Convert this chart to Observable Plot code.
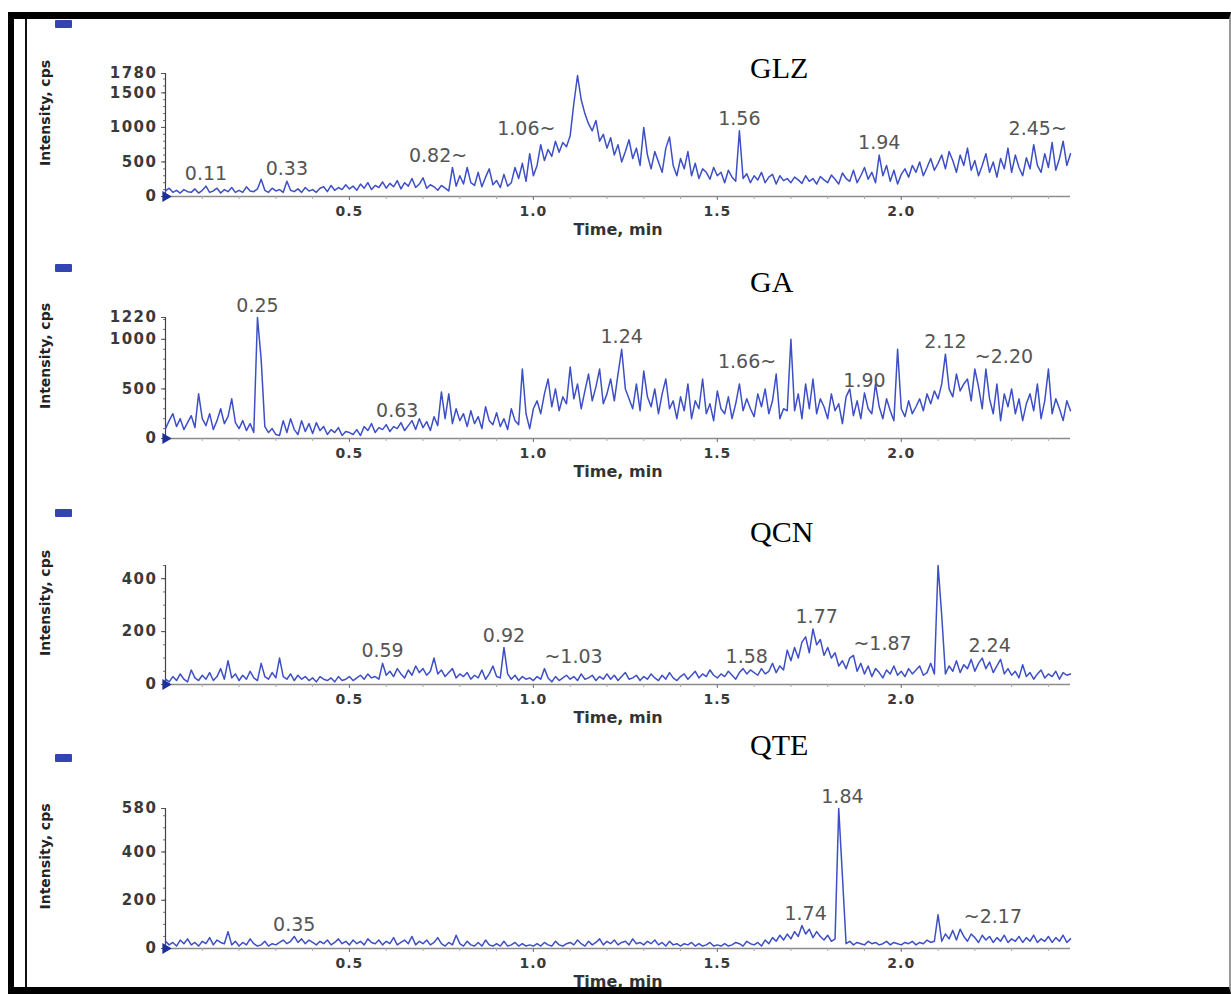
<!DOCTYPE html>
<html><head><meta charset="utf-8">
<script src="https://cdn.jsdelivr.net/npm/d3@7"></script>
<script src="https://cdn.jsdelivr.net/npm/@observablehq/plot@0.6"></script>
<style>
body{margin:0;background:#fff;}
#root{position:relative;width:1231px;height:994px;overflow:hidden;background:#fff;}
.panel{position:absolute;left:0;}
.title{position:absolute;left:750px;font-family:"Liberation Serif","Times New Roman",serif;font-size:30px;color:#000;line-height:1;white-space:nowrap;}
.swatch{position:absolute;left:55px;width:17px;height:8px;background:#3345b0;border-radius:1px;}
#frame{position:absolute;left:8px;top:12px;width:1223px;height:982px;box-sizing:border-box;border-top:7px solid #000;border-left:6px solid #000;border-bottom:7px solid #000;border-right:2px solid #999;pointer-events:none;z-index:5;}
#inner{position:absolute;left:25px;top:19px;width:2px;height:968px;background:#111;z-index:5;}
</style></head><body><div id="root"></div>
<script>
// ---- data (intensity, cps) sampled every 0.01 min from 0.00 to 2.46 ----
const names = ["GLZ", "GA", "QCN", "QTE"];
const glz = [
 80,120,60,90,50,100,70,60,110,50,
 90,150,60,80,120,50,100,70,130,60,
 90,60,140,80,70,110,250,90,60,120,
 80,100,60,220,90,70,110,60,130,80,
 100,60,120,140,70,160,90,130,100,170,
 110,150,90,180,120,200,100,160,130,210,
 120,190,140,230,110,200,150,260,130,180,
 270,120,170,140,90,160,120,80,420,150,
 300,180,420,200,160,350,140,280,400,170,
 230,130,320,150,200,420,260,480,220,620,
 300,450,750,520,680,580,800,640,780,720,
 880,1350,1750,1400,1200,1050,950,1100,800,900,
 700,850,600,750,500,650,820,550,700,450,
 1000,600,400,650,500,350,700,860,450,300,
 550,400,650,300,480,260,400,350,250,420,
 300,350,200,380,280,220,950,260,330,200,
 300,240,350,200,280,320,180,300,230,260,
 200,280,240,190,300,220,260,180,290,240,
 200,310,250,180,340,260,220,380,200,300,
 420,250,350,200,600,300,450,220,380,180,
 320,400,280,450,350,500,300,420,550,380,
 480,600,400,650,520,350,600,450,700,380,
 520,300,450,620,350,500,280,550,400,700,
 350,600,420,300,560,400,750,450,350,620,
 420,780,380,550,800,450,620];
const ga = [
 100,180,250,120,200,90,160,230,110,450,
 200,130,250,90,180,300,150,220,400,160,
 100,180,80,150,60,1220,800,120,60,100,
 40,30,180,60,200,90,40,180,70,150,
 50,160,80,120,40,90,60,110,30,70,
 60,40,90,30,120,80,150,60,110,90,
 140,70,120,100,160,80,130,180,90,200,
 110,170,80,220,130,470,200,450,150,300,
 180,250,120,280,150,220,100,320,180,140,
 260,120,200,90,300,180,140,700,250,100,
 300,380,250,450,600,320,500,280,420,350,
 720,400,550,300,480,650,380,520,700,350,
 450,600,380,650,900,500,400,300,550,280,
 680,420,320,500,250,450,600,300,380,200,
 420,280,550,200,380,300,600,250,350,180,
 480,300,250,420,200,350,550,280,400,300,
 220,450,320,500,250,380,650,200,300,280,
 1000,280,450,200,550,300,600,250,400,320,
 200,450,280,350,150,420,500,230,380,200,
 460,300,250,550,320,200,400,280,180,900,
 300,220,380,250,320,400,280,450,350,480,
 400,550,850,500,420,650,480,550,600,380,
 700,520,300,700,400,250,550,180,450,320,
 500,250,400,180,350,450,280,550,200,380,
 700,250,400,300,180,380,280];
const qcn = [
 20,10,30,15,40,20,10,55,25,15,
 35,20,45,15,30,60,20,90,25,40,
 15,35,20,50,25,15,80,30,20,45,
 25,100,30,20,40,15,35,20,30,15,
 25,10,30,20,15,25,10,30,15,20,
 30,15,25,35,20,40,25,30,20,80,
 35,50,30,60,40,25,55,35,70,45,
 60,35,50,100,40,55,30,45,60,25,
 40,30,45,20,35,25,55,20,40,70,
 30,25,140,40,20,35,15,30,20,25,
 15,30,20,60,25,10,30,15,25,35,
 20,30,15,40,20,25,35,15,30,20,
 40,20,35,15,30,45,20,25,35,15,
 30,20,40,25,15,35,20,45,25,15,
 30,40,20,35,50,25,40,30,55,35,
 25,40,30,50,35,20,45,60,40,55,
 45,35,60,40,50,80,45,70,55,130,
 90,140,100,160,180,120,210,150,170,110,
 140,100,120,70,90,60,100,110,50,80,
 40,70,30,60,45,25,55,40,70,35,
 50,30,60,40,55,70,35,45,80,40,
 450,260,40,70,50,90,45,75,60,95,
 50,80,100,60,85,45,70,95,40,60,
 35,50,25,75,30,45,20,40,55,25,
 40,30,50,20,45,35,40];
const qte = [
 30,15,25,10,35,20,40,15,25,10,
 30,20,45,15,35,25,20,70,15,30,
 10,25,15,40,20,10,15,30,10,20,
 15,25,35,20,30,50,25,40,20,35,
 25,15,30,20,35,15,25,40,20,30,
 15,35,20,30,15,40,25,20,35,15,
 30,20,45,15,25,35,20,50,15,30,
 20,35,15,25,45,20,10,25,15,55,
 20,10,30,15,10,25,10,35,15,10,
 20,10,30,10,15,25,10,20,10,15,
 10,20,10,25,15,10,30,15,10,20,
 25,15,35,20,10,30,15,25,40,15,
 30,20,35,15,25,30,15,40,20,25,
 15,30,20,35,15,25,10,30,15,20,
 10,20,15,25,10,20,10,15,25,10,
 15,10,20,10,15,25,20,10,30,20,
 15,25,10,35,20,45,30,55,35,60,
 40,70,50,95,60,80,45,70,50,35,
 55,30,40,580,300,20,30,15,25,20,
 15,30,20,25,15,20,30,15,25,20,
 15,25,20,30,15,25,20,35,25,30,
 140,30,60,40,75,35,80,50,30,60,
 45,25,55,35,50,25,45,30,55,25,
 40,30,50,25,45,30,55,25,40,30,
 50,25,45,30,55,25,40];

// y-axis tick values per panel
const glzTicks = [0, 500, 1000, 1500, 1780];
const gaTicks = [0, 500, 1000, 1220];
const qcnTicks = [0, 200, 400];
const qteTicks = [0, 200, 400, 580];
// x-axis tick values (min)
const xTicks = [0.5, 1.0, 1.5, 2.0];
// peak retention-time labels ("~" marks the leader side)
const glzPeaks = ["0.11", "0.33", "0.82~", "1.06~", "1.56", "1.94", "2.45~"];
const gaPeaks = ["0.25", "0.63", "1.24", "1.66~", "1.90", "2.12", "~2.20"];
const qcnPeaks = ["0.59", "0.92", "~1.03", "1.58", "1.77", "~1.87", "2.24"];
const qtePeaks = ["0.35", "1.74", "1.84", "~2.17"];

const series = [glz, ga, qcn, qte];
const tickSets = [glzTicks, gaTicks, qcnTicks, qteTicks];
const peakSets = [glzPeaks, gaPeaks, qcnPeaks, qtePeaks];
const minorSteps = [100, 100, 50, 50];

// layout
const layout = [
  {top: 50, h: 190, mt: 23, mb: 44, title: 53, swatch: 20},
  {top: 290, h: 195, mt: 27, mb: 47, title: 267, swatch: 264},
  {top: 545, h: 185, mt: 20, mb: 46, title: 517, swatch: 509},
  {top: 785, h: 209, mt: 23, mb: 46, title: 730, swatch: 754}
];

const root = document.getElementById("root");
const xMax = (glz.length - 1) / 100;
const minorX = d3.range(1, Math.floor(xMax * 10) + 1).map(k => k / 10);
const blue = "#3d4fc6";

series.forEach((vals, k) => {
  const lay = layout[k];
  const data = vals.map((v, i) => ({t: i / 100, v}));
  const yMax = Math.max(d3.max(vals), d3.max(tickSets[k]));
  const peaks = peakSets[k].map(s => {
    const rt = parseFloat(s.replace(/~/g, ""));
    const i = Math.round(rt * 100);
    const lvl = d3.max(vals.slice(Math.max(0, i - 2), i + 3));
    const anchor = s.endsWith("~") ? "end" : s.startsWith("~") ? "start" : "middle";
    return {rt, lvl, s, anchor};
  });
  const peakMark = a => Plot.text(peaks.filter(p => p.anchor === a), {
    x: "rt", y: "lvl", text: "s", textAnchor: a, dy: -12,
    fontSize: 19, fontWeight: "normal", fill: "#555", ariaLabel: "peak"
  });
  const chart = Plot.plot({
    width: 1231, height: lay.h,
    marginLeft: 165, marginRight: 161, marginTop: lay.mt, marginBottom: lay.mb,
    x: {domain: [0, xMax], label: null},
    y: {domain: [0, yMax], label: null},
    style: {fontFamily: "DejaVu Sans, sans-serif", fontSize: "14px", fontWeight: "bold", color: "#3a3a3a", background: "transparent", overflow: "visible"},
    marks: [
      Plot.ruleY([0], {stroke: "#8c8c8c", strokeWidth: 1.5}),
      Plot.axisX({ticks: minorX, tickSize: 3, tickFormat: () => "", stroke: "#aaa", label: null}),
      Plot.axisX({ticks: xTicks, tickSize: 4, tickPadding: 6, tickFormat: d => d.toFixed(1), label: null, stroke: "#777"}),
      Plot.axisY({ticks: d3.range(0, yMax + 1, minorSteps[k]), tickSize: 2, tickFormat: () => "", label: null, stroke: "#777"}),
      Plot.axisY({ticks: tickSets[k], tickSize: 4, tickPadding: 4, tickFormat: d => String(d), label: null, stroke: "#555", fontSize: 15}),
      Plot.ruleX([0], {y1: 0, y2: yMax, stroke: "#444", strokeWidth: 1.2}),
      Plot.line(data, {x: "t", y: "v", stroke: blue, strokeWidth: 1.5}),
      Plot.dot(data.slice(0, 1), {x: "t", y: () => 0, symbol: "triangle", r: 4, fill: "#1d2f9a", rotate: 90}),
      peakMark("middle"), peakMark("end"), peakMark("start"),
      Plot.text(["Time, min"], {frameAnchor: "bottom", textAnchor: "middle", dy: 38, fontSize: 16, fontWeight: "bold", fill: "#333", ariaLabel: "xlabel"}),
      Plot.text(["Intensity, cps"], {frameAnchor: "left", textAnchor: "middle", dx: -120, dy: -22, rotate: -90, fontSize: 14, fontWeight: "bold", fill: "#222", ariaLabel: "ylabel"})
    ]
  });
  d3.select(chart).selectAll('g[aria-label="peak"] text').attr("letter-spacing", 3);
  d3.select(chart).selectAll('g[aria-label="xlabel"] text').attr("letter-spacing", 3);
  d3.select(chart).selectAll('g[aria-label="x-axis tick label"] text').attr("letter-spacing", 1);
  d3.select(chart).selectAll('g[aria-label="y-axis tick label"] text').attr("letter-spacing", 1.5);
  const wrap = document.createElement("div");
  wrap.className = "panel";
  wrap.style.top = lay.top + "px";
  wrap.appendChild(chart);
  root.appendChild(wrap);

  const t = document.createElement("div");
  t.className = "title";
  t.style.top = lay.title + "px";
  t.textContent = names[k];
  root.appendChild(t);

  const sw = document.createElement("div");
  sw.className = "swatch";
  sw.style.top = lay.swatch + "px";
  root.appendChild(sw);
});

const frame = document.createElement("div"); frame.id = "frame"; root.appendChild(frame);
const inner = document.createElement("div"); inner.id = "inner"; root.appendChild(inner);
</script></body></html>
